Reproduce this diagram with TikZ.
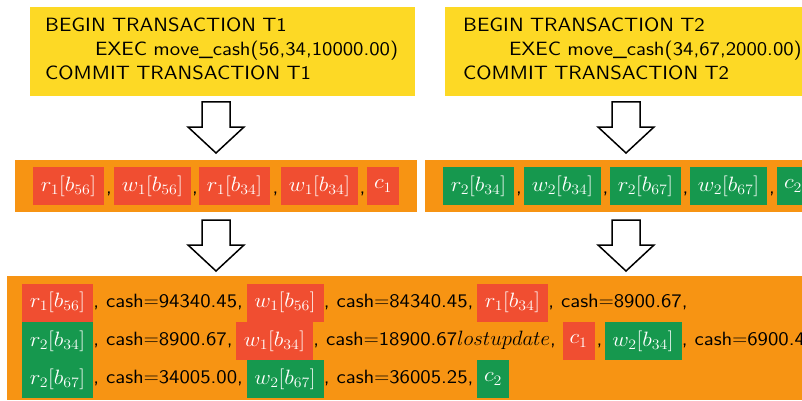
\documentclass[tikz,border=0pt]{standalone}
\usepackage{graphicx}
\usetikzlibrary{calc}
\font\ssf="[lmsans10-regular]:mapping=tex-text;extend=1.08" at 19.2pt
\newcommand\fs{\fontsize{20.74}{24}\selectfont\ssf}
\newcommand\lastdepth{\rule[-6pt]{0pt}{6pt}}
\newcommand\opm[1]{\scalebox{1.1}[1]{$#1$}}
\definecolor{yel}{RGB}{253,217,37}
\definecolor{org}{RGB}{247,148,19}
\definecolor{opred}{RGB}{240,78,49}
\definecolor{opgrn}{RGB}{22,152,78}
\tikzset{
  ybox/.style={fill=yel, anchor=north west, minimum height=89pt, align=left, inner ysep=0pt, font=\fs},
  strip/.style={fill=org, anchor=north west, minimum height=52pt},
  op/.style={minimum height=38pt, inner sep=0pt, text=white, font=\fs},
  rop/.style={op, fill=opred},
  gop/.style={op, fill=opgrn},
  rw/.style={minimum width=71pt},
  ww/.style={minimum width=77pt},
  cw/.style={minimum width=32pt},
  txt/.style={font=\fs, inner sep=0pt, anchor=base west},
  sepcomma/.style={font=\fs, inner sep=0pt, anchor=base},
  barrow/.style={draw=black, fill=white, line width=1.5pt, line join=miter}
}
\newcommand\blockarrow[2]{\draw[barrow] (#1-14,#2) -- (#1+14,#2) -- (#1+14,#2+25) -- (#1+28,#2+25) -- (#1,#2+51) -- (#1-28,#2+25) -- (#1-14,#2+25) -- cycle;}
\begin{document}
\begin{tikzpicture}[x=1pt,y=-1pt]
\useasboundingbox (0,0) rectangle (802,401);
\clip (0,0) rectangle (802,401);
% transaction boxes
\node[ybox, minimum width=372pt, text width=355pt, inner xsep=15pt] (y1) at (30,7)
  {BEGIN TRANSACTION T1\\\hspace*{50pt}EXEC move\_cash(56,34,10000.00)\\COMMIT TRANSACTION T1\lastdepth};
\node[ybox, minimum width=380pt, text width=344pt, inner xsep=18pt] (y2) at (445,7)
  {BEGIN TRANSACTION T2\\\hspace*{46pt}EXEC move\_cash(34,67,2000.00)\\COMMIT TRANSACTION T2\lastdepth};
% arrows
\blockarrow{216}{102}
\blockarrow{626}{102}
\blockarrow{216}{220}
\blockarrow{626}{220}
% strips
\node[strip, minimum width=402pt] (s1) at (15,160) {};
\node[strip, minimum width=400pt] (s2) at (425,160) {};
\node[rop, rw] (a1) at (68.5,186) {\opm{r_1[b_{56}]}};
\node[rop, ww] (a2) at (152.5,186) {\opm{w_1[b_{56}]}};
\node[rop, rw] (a3) at (234.5,186) {\opm{r_1[b_{34}]}};
\node[rop, ww] (a4) at (319.5,186) {\opm{w_1[b_{34}]}};
\node[rop, cw] (a5) at (383,186) {\opm{c_1}};
\node[sepcomma] (ka1) at ($(a1.east)!0.5!(a2.west)+(0,7)$) {,};
\node[sepcomma] (ka2) at ($(a2.east)!0.5!(a3.west)+(0,7)$) {,};
\node[sepcomma] (ka3) at ($(a3.east)!0.5!(a4.west)+(0,7)$) {,};
\node[sepcomma] (ka4) at ($(a4.east)!0.5!(a5.west)+(0,7)$) {,};
\node[gop, rw] (g1) at (478.5,186) {\opm{r_2[b_{34}]}};
\node[gop, ww] (g2) at (562.5,186) {\opm{w_2[b_{34}]}};
\node[gop, rw] (g3) at (645.5,186) {\opm{r_2[b_{67}]}};
\node[gop, ww] (g4) at (728.5,186) {\opm{w_2[b_{67}]}};
\node[gop, cw] (g5) at (793,186) {\opm{c_2}};
\node[sepcomma] (kg1) at ($(g1.east)!0.5!(g2.west)+(0,7)$) {,};
\node[sepcomma] (kg2) at ($(g2.east)!0.5!(g3.west)+(0,7)$) {,};
\node[sepcomma] (kg3) at ($(g3.east)!0.5!(g4.west)+(0,7)$) {,};
\node[sepcomma] (kg4) at ($(g4.east)!0.5!(g5.west)+(0,7)$) {,};
% schedule
\node[fill=org, anchor=north west, minimum width=820pt, minimum height=124pt] (sch) at (7,276) {};
% row 1
\node[rop, rw] (b11) at (57.5,302.5) {\opm{r_1[b_{56}]}};
\node[txt] (t11) at ($(b11.east)+(0,4.5)$) {, cash$=$94340.45,};
\node[rop, ww] (b12) at (285,302.5) {\opm{w_1[b_{56}]}};
\node[txt] (t12) at ($(b12.east)+(0,4.5)$) {, cash$=$84340.45,};
\node[rop, rw] (b13) at (512.5,302.5) {\opm{r_1[b_{34}]}};
\node[txt] (t13) at ($(b13.east)+(0,4.5)$) {, cash$=$8900.67,};
% row 2
\node[gop, rw] (b21) at (57.5,341) {\opm{r_2[b_{34}]}};
\node[txt] (t21) at ($(b21.east)+(0,4.5)$) {, cash$=$8900.67,};
\node[rop, ww] (b22) at (274.5,341) {\opm{w_1[b_{34}]}};
\node[txt] (t22) at ($(b22.east)+(0,4.5)$) {, cash$=$18900.67$lostupdate$,};
\node[rop, cw] (b23) at (578.5,341) {\opm{c_1}};
\node[gop, ww] (b24) at (643,341) {\opm{w_2[b_{34}]}};
\node[sepcomma] (kb2) at ($(b23.east)!0.5!(b24.west)+(0,4.5)$) {,};
\node[txt] (t24) at ($(b24.east)+(0,4.5)$) {, cash$=$6900.45,};
% row 3
\node[gop, rw] (b31) at (57.5,379) {\opm{r_2[b_{67}]}};
\node[txt] (t31) at ($(b31.east)+(0,4.5)$) {, cash$=$34005.00,};
\node[gop, ww] (b32) at (285,379) {\opm{w_2[b_{67}]}};
\node[txt] (t32) at ($(b32.east)+(0,4.5)$) {, cash$=$36005.25,};
\node[gop, cw] (b33) at (493,379) {\opm{c_2}};
\end{tikzpicture}
\end{document}
